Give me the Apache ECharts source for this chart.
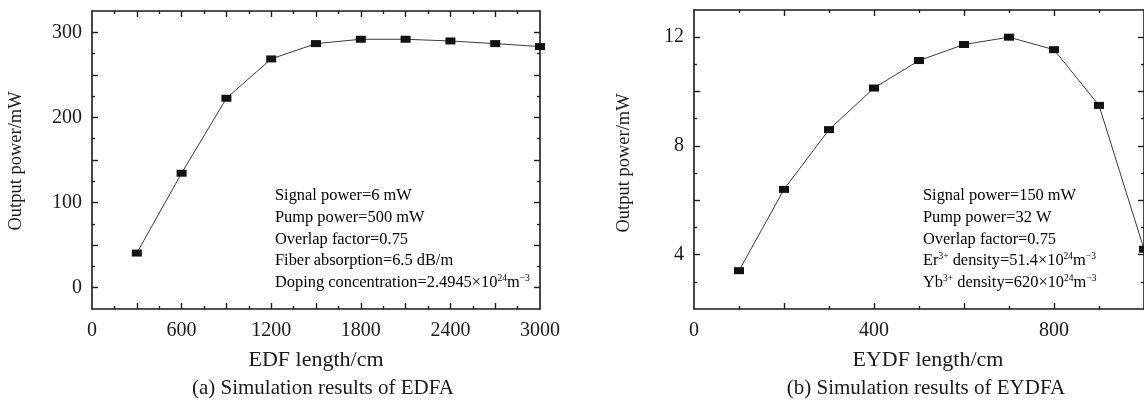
<!DOCTYPE html>
<html>
<head>
<meta charset="utf-8">
<script src="https://cdn.jsdelivr.net/npm/echarts@6/dist/echarts.min.js"></script>
<style>
  html, body { margin: 0; padding: 0; background: #fff; }
  #chart { width: 1144px; height: 401px; }
</style>
</head>
<body>
<div id="chart"></div>
<script>
// (a) EDFA
const edfLength = [300, 600, 900, 1200, 1500, 1800, 2100, 2400, 2700, 3000];
const edfaPower = [40.7, 134.5, 222.5, 268.7, 286.7, 291.8, 291.8, 289.8, 286.7, 283.2];
const edfXLabels = [0, 600, 1200, 1800, 2400, 3000];
const edfXMajor = [300, 600, 900, 1200, 1500, 1800, 2100, 2400, 2700];
const edfXMinor = [150, 450, 750, 1050, 1350, 1650, 1950, 2250, 2550, 2850];
const edfYLabels = [0, 100, 200, 300];
const edfYMajor = [0, 50, 100, 150, 200, 250, 300];
const edfYMinor = [25, 75, 125, 175, 225, 275];
const edfaNotes = [
  'Signal power=6 mW',
  'Pump power=500 mW',
  'Overlap factor=0.75',
  'Fiber absorption=6.5 dB/m',
  'Doping concentration=2.4945×10{s|24}m{s|−3}',
];

// (b) EYDFA
const eydfLength = [100, 200, 300, 400, 500, 600, 700, 800, 900, 1000];
const eydfaPower = [3.41, 6.40, 8.60, 10.13, 11.14, 11.73, 12.0, 11.54, 9.49, 4.2];
const eydfXLabels = [0, 400, 800];
const eydfXMajor = [200, 400, 600, 800];
const eydfXMinor = [100, 300, 500, 700, 900];
const eydfYLabels = [4, 8, 12];
const eydfYMajor = [4, 6, 8, 10, 12];
const eydfYMinor = [3, 5, 7, 9, 11];
const eydfaNotes = [
  'Signal power=150 mW',
  'Pump power=32 W',
  'Overlap factor=0.75',
  'Er{s|3+} density=51.4×10{s|24}m{s|−3}',
  'Yb{s|3+} density=620×10{s|24}m{s|−3}',
];

const FONT = '"Liberation Serif", "Times New Roman", serif';
const INK = '#1a1a1a';

function tickAxis(dim, grid, pos, range, ticks, len, labels, showLine) {
  return {
    type: 'value',
    gridIndex: grid,
    position: pos,
    min: range[0],
    max: range[1],
    axisLine: { show: showLine, onZero: false, lineStyle: { color: INK, width: 1.6 } },
    axisTick: { show: true, inside: true, length: len, customValues: ticks, lineStyle: { color: INK, width: 1.4 } },
    axisLabel: labels
      ? {
          show: true,
          customValues: labels,
          formatter: (v) => String(v),
          fontFamily: FONT,
          fontSize: 20,
          color: INK,
          margin: dim === 'x' ? 12 : 10,
        }
      : { show: false },
    splitLine: { show: false },
  };
}

// main + minor axis on both sides: bottom/top for x, left/right for y
function axesFor(dim, grid, range, major, minor, labels) {
  const a = dim === 'x' ? 'bottom' : 'left';
  const b = dim === 'x' ? 'top' : 'right';
  return [
    tickAxis(dim, grid, a, range, major, 6, labels, true),
    tickAxis(dim, grid, a, range, minor, 3, null, false),
    tickAxis(dim, grid, b, range, major, 6, null, true),
    tickAxis(dim, grid, b, range, minor, 3, null, false),
  ];
}

function text(x, y, str, size, extra) {
  return Object.assign({
    type: 'text',
    x: x,
    y: y,
    style: { text: str, fontFamily: FONT, fontSize: size, fill: INK, textAlign: 'center', textVerticalAlign: 'middle' },
  }, extra || {});
}

function notes(x, lines) {
  const ys = [196, 217.7, 239.4, 261.1, 282.8];
  return lines.map((s, i) => ({
    type: 'text',
    x: x,
    y: ys[i],
    style: {
      text: '{n|' + s.replace(/\{s\|([^}]*)\}/g, '}{s|$1}{n|') + '}',
      textAlign: 'left',
      textVerticalAlign: 'middle',
      rich: {
        n: { fontFamily: FONT, fontSize: 16.4, color: INK, lineHeight: 19 },
        s: { fontFamily: FONT, fontSize: 9.5, color: INK, verticalAlign: 'top' },
      },
    },
  }));
}

function lineSeries(xi, xs, ys) {
  return {
    type: 'line',
    xAxisIndex: xi,
    yAxisIndex: xi,
    data: xs.map((x, i) => [x, ys[i]]),
    symbol: 'rect',
    symbolSize: [10, 7],
    clip: false,
    itemStyle: { color: '#111' },
    lineStyle: { color: '#3a3a3a', width: 1 },
  };
}

const chart = echarts.init(document.getElementById('chart'), null, { renderer: 'canvas' });
chart.setOption({
  animation: false,
  grid: [
    { left: 92, top: 11, width: 448, height: 298 },
    { left: 694, top: 10, width: 452, height: 299 },
  ],
  xAxis: [
    ...axesFor('x', 0, [0, 3000], edfXMajor, edfXMinor, edfXLabels),
    ...axesFor('x', 1, [0, 1000], eydfXMajor, eydfXMinor, eydfXLabels),
  ],
  yAxis: [
    ...axesFor('y', 0, [-25, 325], edfYMajor, edfYMinor, edfYLabels),
    ...axesFor('y', 1, [2, 13], eydfYMajor, eydfYMinor, eydfYLabels),
  ],
  series: [
    lineSeries(0, edfLength, edfaPower),
    lineSeries(4, eydfLength, eydfaPower),
  ],
  graphic: [
    text(16, 161, 'Output power/mW', 18.5, { rotation: Math.PI / 2 }),
    text(624, 163, 'Output power/mW', 18.5, { rotation: Math.PI / 2 }),
    text(316, 360, 'EDF length/cm', 22),
    text(928, 360, 'EYDF length/cm', 22),
    text(323, 388, '(a) Simulation results of EDFA', 21),
    text(926, 388, '(b) Simulation results of EYDFA', 21),
    ...notes(275, edfaNotes),
    ...notes(923, eydfaNotes),
  ],
});
</script>
</body>
</html>
